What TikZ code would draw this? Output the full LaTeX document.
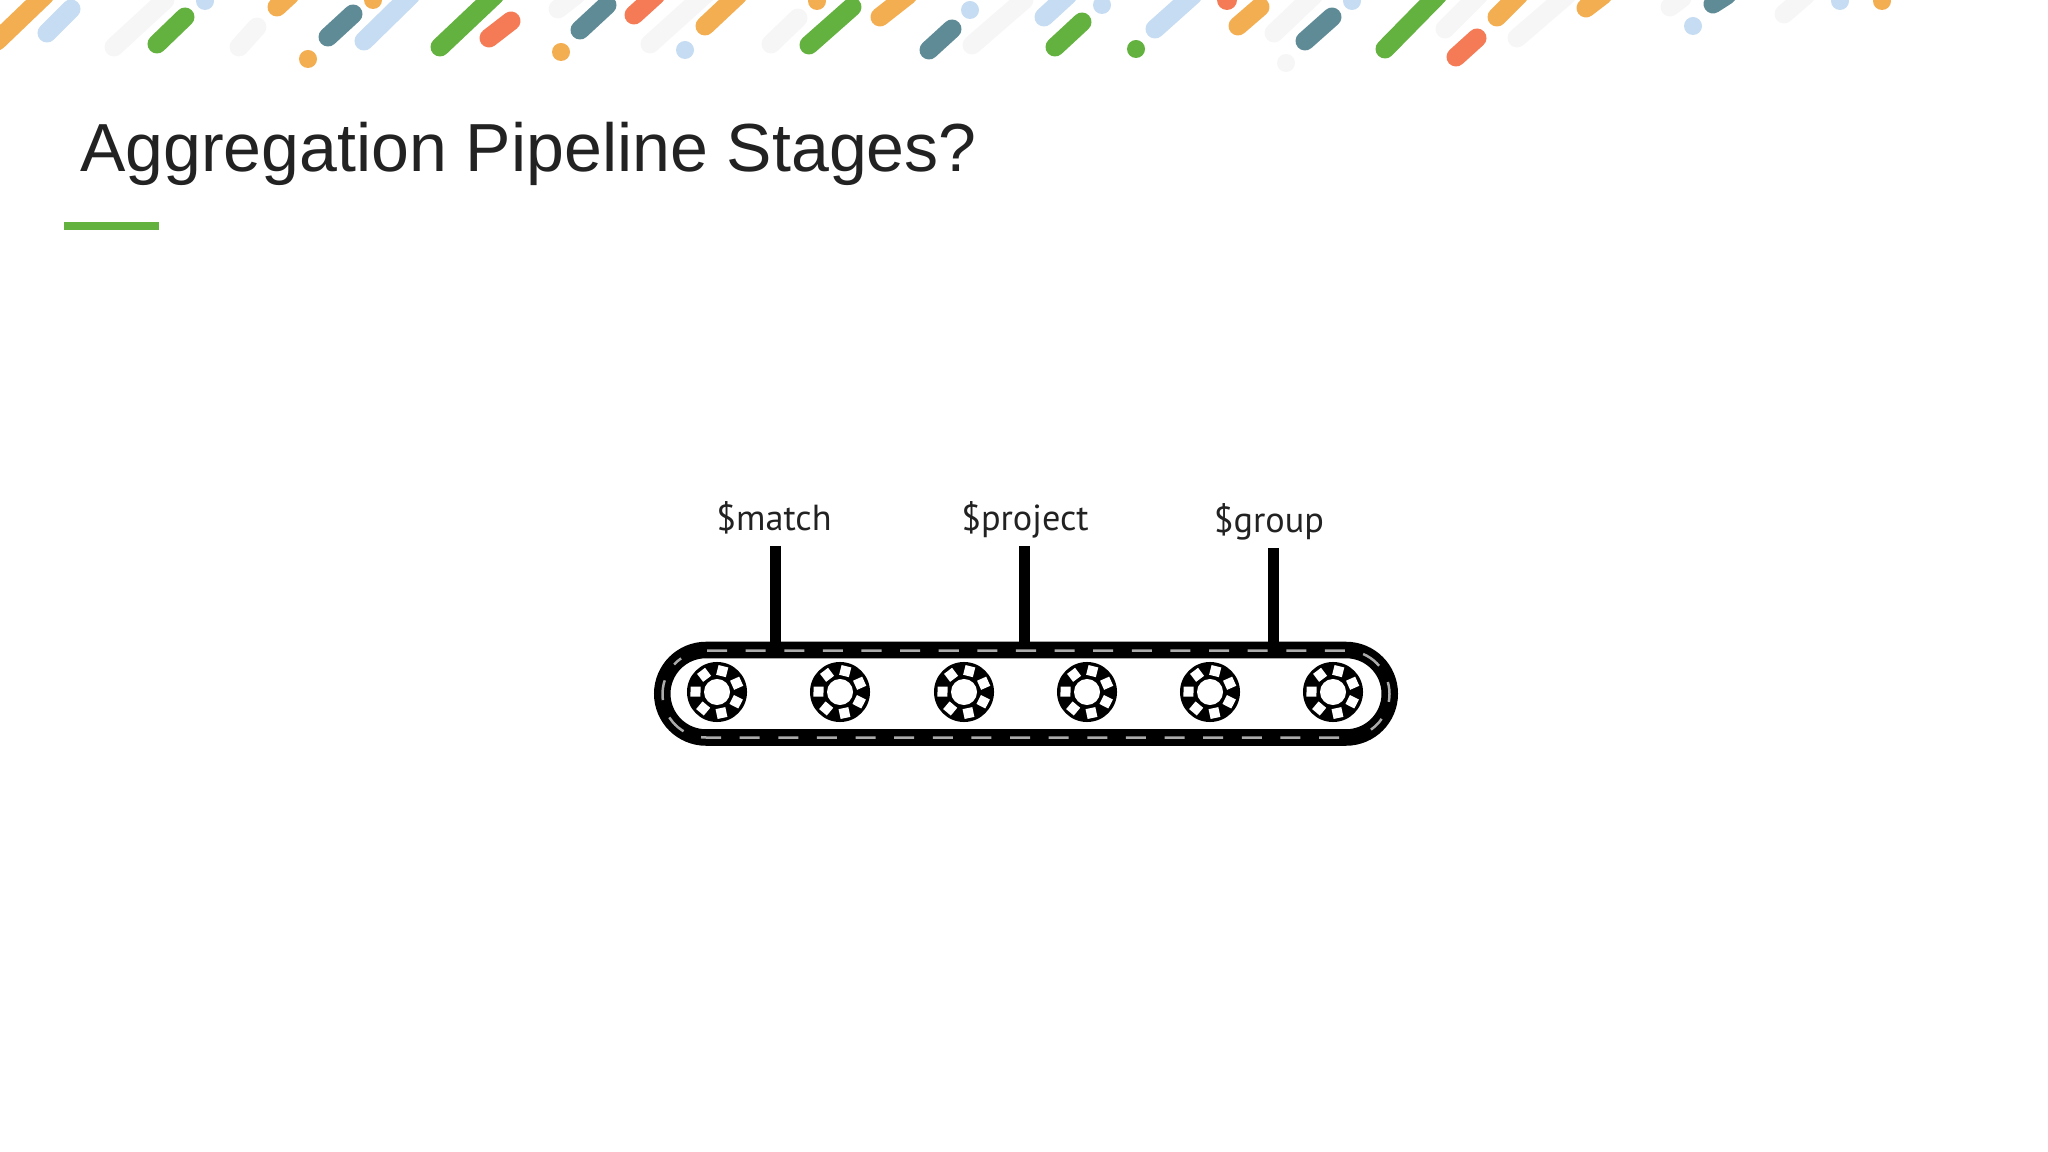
\documentclass[tikz,border=0pt]{standalone}
\usepackage{fontspec}
\setmainfont{Liberation Sans}
\newfontfamily\labelfont{PT Sans}
\definecolor{barorange}{HTML}{F4AE52}
\definecolor{barblue}{HTML}{C5DCF2}
\definecolor{bargreen}{HTML}{63B23F}
\definecolor{barteal}{HTML}{5E8B96}
\definecolor{barred}{HTML}{F47B55}
\definecolor{barpale}{HTML}{F6F6F6}
\definecolor{inktext}{HTML}{222222}
\definecolor{seamgray}{HTML}{ABABAB}
\tikzset{
    bar/.style={line width=0.19cm, line cap=round},
    belt/.style={line width=0.165cm, black},
    seam/.style={line width=0.025cm, seamgray, dash pattern=on 0.2cm off 0.186cm},
    stem/.style={line width=0.11cm, black},
    wheel/.style={circle, fill=black, minimum size=0.6cm, inner sep=0pt},
    hub/.style={circle, fill=white, minimum size=0.26cm, inner sep=0pt},
    wheelgap/.style={rectangle, fill=white, minimum size=0.1cm, inner sep=0pt},
    stagelabel/.style={anchor=base, text=inktext, font=\labelfont\fontsize{10.3}{12}\selectfont}
}
\begin{document}
\begin{tikzpicture}[x=0.01cm, y=-0.01cm]
            \useasboundingbox (0,0) rectangle (2048,1152);
            \begin{scope}
                \clip (0,0) rectangle (2048,1152);
                \foreach \xa/\ya/\xb/\yb in {114/47/165/0, 239/47/257/27, 558/9/576/-5, 650/44/710/-10, 771/44/798/18, 972/45/1024/0, 1274/33/1314/-5, 1445/29/1479/-5, 1517/38/1567/-5, 1670/7/1682/-2, 1784/14/1806/-5}
                    \draw[bar, barpale] (\xa,\ya) -- (\xb,\yb);
                \foreach \xa/\ya/\xb/\yb in {-3/41/45/-5, 277/7/290/-5, 705/26/738/-5, 880/17/908/-5, 1238/26/1260/7, 1497/17/1519/-5, 1586/8/1603/-5}
                    \draw[bar, barorange] (\xa,\ya) -- (\xb,\yb);
                \foreach \xa/\ya/\xb/\yb in {47/33/71/9, 364/41/411/-5, 1044/17/1068/-5, 1155/29/1193/-5}
                    \draw[bar, barblue] (\xa,\ya) -- (\xb,\yb);
                \foreach \xa/\ya/\xb/\yb in {157/44/185/17, 440/47/495/-5, 809/45/852/7, 1055/47/1082/22, 1385/49/1438/-5}
                    \draw[bar, bargreen] (\xa,\ya) -- (\xb,\yb);
                \foreach \xa/\ya/\xb/\yb in {328/37/353/14, 580/30/607/5, 929/50/952/29, 1305/41/1332/17, 1713/4/1727/-5}
                    \draw[bar, barteal] (\xa,\ya) -- (\xb,\yb);
                \foreach \xa/\ya/\xb/\yb in {489/38/511/21, 634/15/656/-5, 1456/57/1477/38}
                    \draw[bar, barred] (\xa,\ya) -- (\xb,\yb);
                \foreach \x/\y in {373/0, 308/59, 561/52, 817/1, 1882/1}
                    \fill[barorange] (\x,\y) circle (0.09cm);
                \foreach \x/\y in {205/1, 685/50, 970/10, 1102/5, 1352/1, 1693/26, 1840/1}
                    \fill[barblue] (\x,\y) circle (0.09cm);
                \fill[bargreen] (1136,49) circle (0.09cm);
                \fill[barred] (1227,0) circle (0.1cm);
                \fill[barpale] (1286,63) circle (0.09cm);
            \end{scope}

            \node[anchor=base west, inner sep=0pt, text=inktext, font=\fontsize{19.35}{23}\selectfont] (title) at (79.5,172) {Aggregation Pipeline Stages?};
            \coordinate (ruleL) at (64,226);
            \coordinate (ruleR) at (159,226);
            \draw[line width=0.08cm, bargreen] (ruleL) -- (ruleR);

            \node[stagelabel] (match) at (774,530.5) {\$match};
            \node[stagelabel] (project) at (1025,530.5) {\$project};
            \node[stagelabel] (group) at (1269,532.5) {\$group};

            \coordinate (stemA) at (775.5,546);
            \coordinate (stemB) at (1024,546);
            \coordinate (stemC) at (1273,548);
            \coordinate (beltA) at (775.5,650);
            \coordinate (beltB) at (1024,650);
            \coordinate (beltC) at (1273,650);
            \draw[stem] (stemA) -- (beltA);
            \draw[stem] (stemB) -- (beltB);
            \draw[stem] (stemC) -- (beltC);

            \draw[belt] (706,650) -- (1346,650) arc[start angle=-90, end angle=90, radius=43.75] -- (706,737.5) arc[start angle=90, end angle=270, radius=43.75] -- cycle;
            \draw[seam] (707,650.5) -- (1346,650.5) arc[start angle=-90, end angle=55, radius=43.5];
            \draw[seam] (1339,737.5) -- (706,737.5) arc[start angle=90, end angle=235, radius=43.5];

            \foreach \x [count=\i] in {717,840,964,1087,1210,1333} {
                \node[wheel] (wheel\i) at (\x,692) {};
                \node[hub] (hub\i) at (wheel\i) {};
                \foreach \a [count=\k] in {76,24,-27,-78,-130,179,127}
                    \node[wheelgap, rotate=\a] (gap\i-\k) at ([shift={(-\a:21.5)}]wheel\i) {};
            }
        \end{tikzpicture}
\end{document}
